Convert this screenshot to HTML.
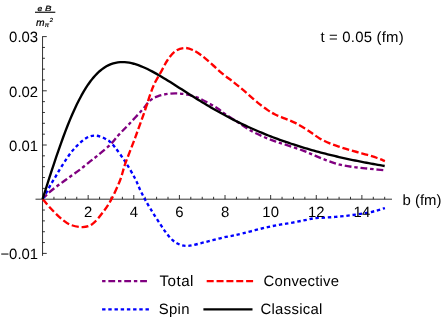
<!DOCTYPE html>
<html><head><meta charset="utf-8"><title>plot</title>
<style>
html,body{margin:0;padding:0;background:#fff;}
body{width:443px;height:327px;overflow:hidden;}
svg{display:block;will-change:transform;transform:translateZ(0);font-family:"Liberation Sans",sans-serif;-webkit-font-smoothing:antialiased;text-rendering:geometricPrecision;}
</style></head><body>
<svg width="443" height="327" viewBox="0 0 443 327">
<rect width="443" height="327" fill="#fff"/>
<g stroke="#000" stroke-width="0.8" fill="none">
<line x1="35.50" y1="199.20" x2="392.00" y2="199.20"/>
<line x1="53.95" y1="199.20" x2="53.95" y2="196.80"/>
<line x1="65.36" y1="199.20" x2="65.36" y2="196.80"/>
<line x1="76.76" y1="199.20" x2="76.76" y2="196.80"/>
<line x1="88.17" y1="199.20" x2="88.17" y2="195.00"/>
<line x1="99.57" y1="199.20" x2="99.57" y2="196.80"/>
<line x1="110.98" y1="199.20" x2="110.98" y2="196.80"/>
<line x1="122.38" y1="199.20" x2="122.38" y2="196.80"/>
<line x1="133.79" y1="199.20" x2="133.79" y2="195.00"/>
<line x1="145.19" y1="199.20" x2="145.19" y2="196.80"/>
<line x1="156.60" y1="199.20" x2="156.60" y2="196.80"/>
<line x1="168.00" y1="199.20" x2="168.00" y2="196.80"/>
<line x1="179.41" y1="199.20" x2="179.41" y2="195.00"/>
<line x1="190.81" y1="199.20" x2="190.81" y2="196.80"/>
<line x1="202.22" y1="199.20" x2="202.22" y2="196.80"/>
<line x1="213.62" y1="199.20" x2="213.62" y2="196.80"/>
<line x1="225.03" y1="199.20" x2="225.03" y2="195.00"/>
<line x1="236.44" y1="199.20" x2="236.44" y2="196.80"/>
<line x1="247.84" y1="199.20" x2="247.84" y2="196.80"/>
<line x1="259.25" y1="199.20" x2="259.25" y2="196.80"/>
<line x1="270.65" y1="199.20" x2="270.65" y2="195.00"/>
<line x1="282.06" y1="199.20" x2="282.06" y2="196.80"/>
<line x1="293.46" y1="199.20" x2="293.46" y2="196.80"/>
<line x1="304.87" y1="199.20" x2="304.87" y2="196.80"/>
<line x1="316.27" y1="199.20" x2="316.27" y2="195.00"/>
<line x1="327.68" y1="199.20" x2="327.68" y2="196.80"/>
<line x1="339.08" y1="199.20" x2="339.08" y2="196.80"/>
<line x1="350.49" y1="199.20" x2="350.49" y2="196.80"/>
<line x1="361.89" y1="199.20" x2="361.89" y2="195.00"/>
<line x1="373.30" y1="199.20" x2="373.30" y2="196.80"/>
<line x1="384.70" y1="199.20" x2="384.70" y2="196.80"/>
<line x1="42.55" y1="36.30" x2="42.55" y2="255.90"/>
<line x1="42.55" y1="253.40" x2="46.75" y2="253.40"/>
<line x1="42.55" y1="242.56" x2="44.95" y2="242.56"/>
<line x1="42.55" y1="231.72" x2="44.95" y2="231.72"/>
<line x1="42.55" y1="220.88" x2="44.95" y2="220.88"/>
<line x1="42.55" y1="210.04" x2="44.95" y2="210.04"/>
<line x1="42.55" y1="188.36" x2="44.95" y2="188.36"/>
<line x1="42.55" y1="177.52" x2="44.95" y2="177.52"/>
<line x1="42.55" y1="166.68" x2="44.95" y2="166.68"/>
<line x1="42.55" y1="155.84" x2="44.95" y2="155.84"/>
<line x1="42.55" y1="145.00" x2="46.75" y2="145.00"/>
<line x1="42.55" y1="134.16" x2="44.95" y2="134.16"/>
<line x1="42.55" y1="123.32" x2="44.95" y2="123.32"/>
<line x1="42.55" y1="112.48" x2="44.95" y2="112.48"/>
<line x1="42.55" y1="101.64" x2="44.95" y2="101.64"/>
<line x1="42.55" y1="90.80" x2="46.75" y2="90.80"/>
<line x1="42.55" y1="79.96" x2="44.95" y2="79.96"/>
<line x1="42.55" y1="69.12" x2="44.95" y2="69.12"/>
<line x1="42.55" y1="58.28" x2="44.95" y2="58.28"/>
<line x1="42.55" y1="47.44" x2="44.95" y2="47.44"/>
<line x1="42.55" y1="36.60" x2="46.75" y2="36.60"/>
</g>
<g fill="#000" font-style="italic" stroke="#000" stroke-width="0.22">
<text transform="translate(37.4 10.7) scale(1.12 1)" font-size="7.6">e</text>
<text transform="translate(45.1 10.7) scale(1.3 1)" font-size="7.5">B</text>
<rect x="35" y="11.7" width="20.3" height="1.1" stroke="none"/>
<text x="35.9" y="25.7" font-size="10.3">m</text>
<text x="44.8" y="27.4" font-size="6.4">π</text>
<text x="49.8" y="22" font-size="5.8">2</text>
</g>
<g fill="none" stroke-width="2.35" stroke-linejoin="round">
<path d="M42.80 199.20 C43.65 198.27 45.72 195.63 47.90 193.60 C50.08 191.57 53.25 189.05 55.90 187.00 C58.55 184.95 61.17 183.22 63.80 181.30 C66.43 179.38 69.00 177.45 71.70 175.50 C74.40 173.55 77.22 171.72 80.00 169.60 C82.78 167.48 85.40 165.20 88.40 162.80 C91.40 160.40 94.30 158.28 98.00 155.20 C101.70 152.12 107.17 147.67 110.60 144.30 C114.03 140.93 115.50 138.38 118.60 135.00 C121.70 131.62 125.25 128.20 129.20 124.00 C133.15 119.80 138.83 113.70 142.30 109.80 C145.77 105.90 147.45 102.83 150.00 100.60 C152.55 98.37 154.67 97.52 157.60 96.40 C160.53 95.28 164.27 94.40 167.60 93.90 C170.93 93.40 174.27 93.27 177.60 93.40 C180.93 93.53 184.25 93.98 187.60 94.70 C190.95 95.42 194.35 96.37 197.70 97.70 C201.05 99.03 204.37 100.90 207.70 102.70 C211.03 104.50 214.82 106.63 217.70 108.50 C220.58 110.37 221.68 111.63 225.00 113.90 C228.32 116.17 233.42 119.38 237.60 122.10 C241.78 124.82 245.92 127.82 250.10 130.20 C254.28 132.58 258.52 134.53 262.70 136.40 C266.88 138.27 271.03 139.90 275.20 141.40 C279.37 142.90 283.15 143.90 287.70 145.40 C292.25 146.90 297.95 148.70 302.50 150.40 C307.05 152.10 310.82 153.88 315.00 155.60 C319.18 157.32 323.42 159.18 327.60 160.70 C331.78 162.22 335.92 163.67 340.10 164.70 C344.28 165.73 348.52 166.30 352.70 166.90 C356.88 167.50 361.03 167.85 365.20 168.30 C369.37 168.75 374.43 169.27 377.70 169.60 C380.97 169.93 383.62 170.18 384.80 170.30" stroke="#800080" stroke-dasharray="6.8 2.85 3.4 2.85" stroke-dashoffset="6.8"/>
<path d="M42.80 199.20 C43.65 197.62 46.38 192.45 47.90 189.70 C49.42 186.95 50.57 184.97 51.90 182.70 C53.23 180.43 54.58 178.33 55.90 176.10 C57.22 173.87 58.48 171.48 59.80 169.30 C61.12 167.12 62.50 165.00 63.80 163.00 C65.10 161.00 66.33 159.13 67.60 157.30 C68.87 155.47 70.08 153.65 71.40 152.00 C72.72 150.35 74.10 148.90 75.50 147.40 C76.90 145.90 78.25 144.42 79.80 143.00 C81.35 141.58 83.13 140.02 84.80 138.90 C86.47 137.78 88.03 136.85 89.80 136.30 C91.57 135.75 93.43 135.48 95.40 135.60 C97.37 135.72 99.63 136.28 101.60 137.00 C103.57 137.72 105.80 139.10 107.20 139.90 C108.60 140.70 108.67 140.52 110.00 141.80 C111.33 143.08 112.67 144.30 115.20 147.60 C117.73 150.90 121.93 156.53 125.20 161.60 C128.47 166.67 132.30 173.27 134.80 178.00 C137.30 182.73 138.52 186.45 140.20 190.00 C141.88 193.55 143.22 196.22 144.90 199.30 C146.58 202.38 148.18 205.03 150.30 208.50 C152.42 211.97 155.13 216.28 157.60 220.10 C160.07 223.92 162.60 228.05 165.10 231.40 C167.60 234.75 170.10 237.98 172.60 240.20 C175.10 242.42 177.80 243.75 180.10 244.70 C182.40 245.65 184.30 245.82 186.40 245.90 C188.50 245.98 189.98 245.73 192.70 245.20 C195.42 244.67 199.37 243.53 202.70 242.70 C206.03 241.87 209.37 241.05 212.70 240.20 C216.03 239.35 219.35 238.37 222.70 237.60 C226.05 236.83 229.50 236.30 232.80 235.60 C236.10 234.90 238.80 234.30 242.50 233.40 C246.20 232.50 250.82 231.25 255.00 230.20 C259.18 229.15 263.42 228.03 267.60 227.10 C271.78 226.17 275.92 225.35 280.10 224.60 C284.28 223.85 288.52 223.35 292.70 222.60 C296.88 221.85 301.45 220.85 305.20 220.10 C308.95 219.35 311.87 218.52 315.20 218.10 C318.53 217.68 321.83 217.80 325.20 217.60 C328.57 217.40 332.02 217.18 335.40 216.90 C338.78 216.62 342.13 216.28 345.50 215.90 C348.87 215.52 352.25 215.07 355.60 214.60 C358.95 214.13 362.27 213.72 365.60 213.10 C368.93 212.48 372.38 211.73 375.60 210.90 C378.82 210.07 383.35 208.57 384.90 208.10" stroke="#0000ff" stroke-dasharray="3.4 2.8"/>
<path d="M42.80 199.20 C44.00 200.60 47.13 204.53 50.00 207.60 C52.87 210.67 56.67 214.77 60.00 217.60 C63.33 220.43 66.23 223.02 70.00 224.60 C73.77 226.18 78.83 227.22 82.60 227.10 C86.37 226.98 89.25 226.32 92.60 223.90 C95.95 221.48 99.57 216.70 102.70 212.60 C105.83 208.50 108.48 204.73 111.40 199.30 C114.32 193.87 117.90 185.90 120.20 180.00 C122.50 174.10 122.70 170.97 125.20 163.90 C127.70 156.83 131.97 146.33 135.20 137.60 C138.43 128.87 142.07 118.78 144.60 111.50 C147.13 104.22 148.67 98.72 150.40 93.90 C152.13 89.08 153.18 86.35 155.00 82.60 C156.82 78.85 159.20 75.17 161.30 71.40 C163.40 67.63 165.30 63.35 167.60 60.00 C169.90 56.65 172.38 53.30 175.10 51.30 C177.82 49.30 180.97 48.22 183.90 48.00 C186.83 47.78 189.57 48.62 192.70 50.00 C195.83 51.38 199.37 53.80 202.70 56.30 C206.03 58.80 209.37 62.07 212.70 65.00 C216.03 67.93 219.35 71.13 222.70 73.90 C226.05 76.67 229.92 79.35 232.80 81.60 C235.68 83.85 237.53 85.37 240.00 87.40 C242.47 89.43 244.67 91.27 247.60 93.80 C250.53 96.33 254.25 99.88 257.60 102.60 C260.95 105.32 264.77 108.12 267.70 110.10 C270.63 112.08 272.28 113.08 275.20 114.50 C278.12 115.92 281.87 117.20 285.20 118.60 C288.53 120.00 291.85 121.22 295.20 122.90 C298.55 124.58 302.67 127.10 305.30 128.70 C307.93 130.30 308.62 130.88 311.00 132.50 C313.38 134.12 316.57 136.62 319.60 138.40 C322.63 140.18 326.00 141.83 329.20 143.20 C332.40 144.57 335.60 145.53 338.80 146.60 C342.00 147.67 345.20 148.65 348.40 149.60 C351.60 150.55 354.80 151.42 358.00 152.30 C361.20 153.18 364.40 153.95 367.60 154.90 C370.80 155.85 374.32 156.97 377.20 158.00 C380.08 159.03 383.62 160.58 384.90 161.10" stroke="#ff0000" stroke-dasharray="7 2.85"/>
<path d="M42.55 199.20 L44.83 192.01 L47.11 184.84 L49.39 177.73 L51.67 170.69 L53.95 163.76 L56.24 156.95 L58.52 150.29 L60.80 143.81 L63.08 137.51 L65.36 131.42 L67.64 125.55 L69.92 119.92 L72.20 114.54 L74.48 109.42 L76.76 104.57 L79.05 99.99 L81.33 95.69 L83.61 91.67 L85.89 87.93 L88.17 84.47 L90.45 81.28 L92.73 78.37 L95.01 75.73 L97.29 73.35 L99.57 71.23 L101.86 69.36 L104.14 67.72 L106.42 66.31 L108.70 65.13 L110.98 64.15 L113.26 63.38 L115.54 62.79 L117.82 62.39 L120.10 62.15 L122.38 62.07 L124.67 62.15 L126.95 62.36 L129.23 62.70 L131.51 63.16 L133.79 63.74 L136.07 64.41 L138.35 65.19 L140.63 66.04 L142.91 66.98 L145.19 67.99 L147.48 69.06 L149.76 70.20 L152.04 71.38 L154.32 72.61 L156.60 73.88 L158.88 75.19 L161.16 76.53 L163.44 77.90 L165.72 79.29 L168.00 80.69 L170.29 82.12 L172.57 83.55 L174.85 85.00 L177.13 86.45 L179.41 87.91 L181.69 89.36 L183.97 90.82 L186.25 92.27 L188.53 93.72 L190.81 95.16 L193.10 96.60 L195.38 98.02 L197.66 99.44 L199.94 100.84 L202.22 102.23 L204.50 103.61 L206.78 104.98 L209.06 106.33 L211.34 107.66 L213.62 108.98 L215.91 110.28 L218.19 111.57 L220.47 112.84 L222.75 114.09 L225.03 115.32 L227.31 116.54 L229.59 117.74 L231.87 118.92 L234.15 120.09 L236.44 121.23 L238.72 122.36 L241.00 123.47 L243.28 124.57 L245.56 125.64 L247.84 126.70 L250.12 127.74 L252.40 128.77 L254.68 129.77 L256.96 130.76 L259.25 131.74 L261.53 132.69 L263.81 133.64 L266.09 134.56 L268.37 135.47 L270.65 136.36 L272.93 137.24 L275.21 138.10 L277.49 138.95 L279.77 139.79 L282.06 140.60 L284.34 141.41 L286.62 142.20 L288.90 142.98 L291.18 143.74 L293.46 144.49 L295.74 145.23 L298.02 145.95 L300.30 146.66 L302.58 147.36 L304.87 148.05 L307.15 148.72 L309.43 149.39 L311.71 150.04 L313.99 150.68 L316.27 151.31 L318.55 151.93 L320.83 152.54 L323.11 153.13 L325.39 153.72 L327.68 154.30 L329.96 154.87 L332.24 155.42 L334.52 155.97 L336.80 156.51 L339.08 157.04 L341.36 157.56 L343.64 158.07 L345.92 158.58 L348.20 159.07 L350.49 159.56 L352.77 160.04 L355.05 160.51 L357.33 160.97 L359.61 161.43 L361.89 161.88 L364.17 162.32 L366.45 162.75 L368.73 163.18 L371.01 163.60 L373.30 164.01 L375.58 164.41 L377.86 164.81 L380.14 165.21 L382.42 165.59 L384.70 165.98" stroke="#000"/>
<path d="M102.1 281.05H147.2" stroke="#800080" stroke-dasharray="6.8 2.85 3.4 2.85" stroke-dashoffset="9.65"/>
<path d="M206.7 281.05H253.2" stroke="#ff0000" stroke-dasharray="7 2.85"/>
<path d="M102.1 309.3H149" stroke="#0000ff" stroke-dasharray="3.4 2.8"/>
<path d="M203.4 309.4H252.5" stroke="#000"/>
</g>
<g font-size="14.9" fill="#000">
<text x="88.17" y="217.00" text-anchor="middle">2</text>
<text x="133.79" y="217.00" text-anchor="middle">4</text>
<text x="179.41" y="217.00" text-anchor="middle">6</text>
<text x="225.03" y="217.00" text-anchor="middle">8</text>
<text x="270.65" y="217.00" text-anchor="middle">10</text>
<text x="316.27" y="217.00" text-anchor="middle">12</text>
<text x="361.89" y="217.00" text-anchor="middle">14</text>
<text x="38.10" y="42.30" text-anchor="end">0.03</text>
<text x="38.10" y="96.50" text-anchor="end">0.02</text>
<text x="38.10" y="150.70" text-anchor="end">0.01</text>
<text x="38.10" y="259.10" text-anchor="end">−0.01</text>
<text x="402.6" y="205.2">b (fm)</text>
<text x="320.4" y="41.9" textLength="83.2" lengthAdjust="spacing">t = 0.05 (fm)</text>
<text x="159.4" y="285.6" font-size="15.2" letter-spacing="0.5">Total</text>
<text x="263.5" y="285.6" letter-spacing="0.2">Convective</text>
<text x="158.8" y="314.2" letter-spacing="0.3">Spin</text>
<text x="260.5" y="314.2" letter-spacing="0.28">Classical</text>
</g>
</svg>
</body></html>
